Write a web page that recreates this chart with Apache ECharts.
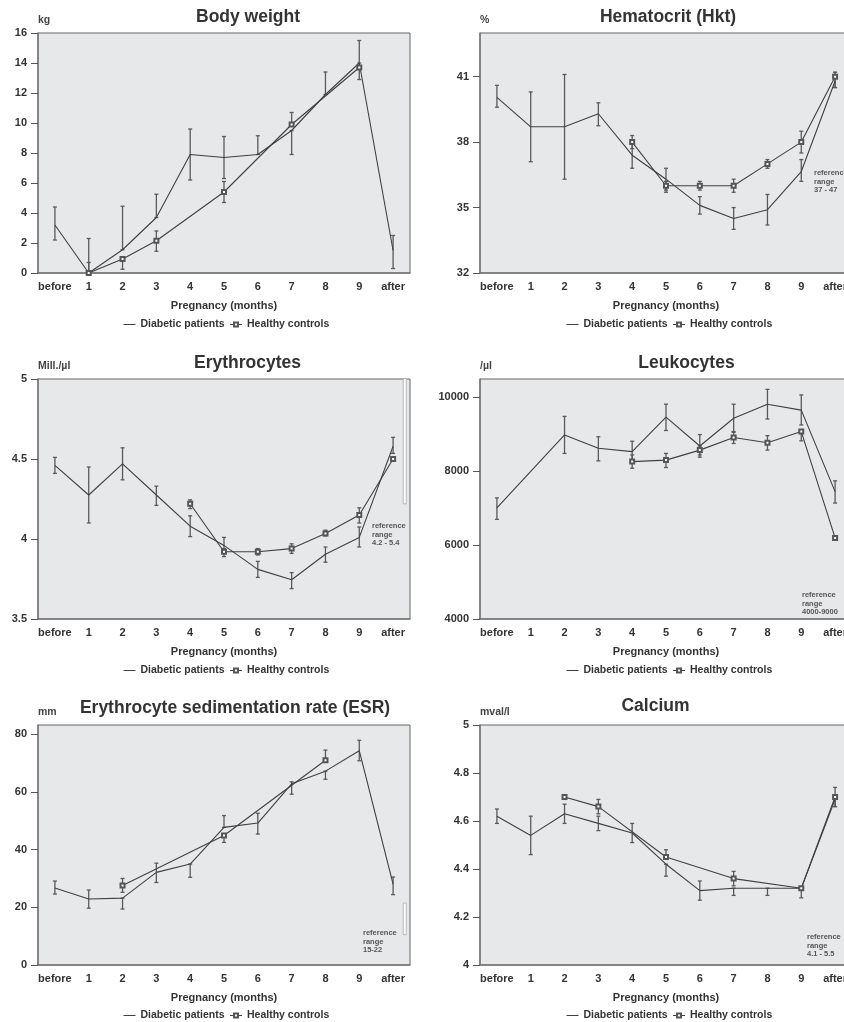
<!DOCTYPE html>
<html><head><meta charset="utf-8">
<script src="https://cdn.jsdelivr.net/npm/echarts@6/dist/echarts.min.js"></script>
<style>html,body{margin:0;padding:0;background:#fff}#c{width:844px;height:1022px}</style>
</head><body><div id="c"></div><script>
// ---------- categories ----------
const months = ['before','1','2','3','4','5','6','7','8','9','after'];
const seriesNames = ['Diabetic patients','Healthy controls'];

// ---------- Body weight (kg) ----------
const bwDiab   = [3.2, 0, 1.55, 3.7, 7.9, 7.7, 7.9, 9.5, 11.9, 14.0, 1.5];
const bwDiabLo = [2.2, 0, 1.55, 3.7, 6.2, 6.3, 7.9, 7.9, 11.9, 14.0, 0.3];
const bwDiabHi = [4.4, 2.3, 4.45, 5.25, 9.6, 9.1, 9.15, 9.5, 13.4, 15.5, 2.5];
const bwCtrl   = [null, 0, 0.93, 2.15, null, 5.4, null, 9.9, null, 13.7, null];
const bwCtrlLo = [null, 0, 0.25, 1.45, null, 4.7, null, 9.9, null, 12.9, null];
const bwCtrlHi = [null, 0.7, 0.93, 2.8, null, 6.1, null, 10.7, null, 13.7, null];
const bwTicks  = [0, 2, 4, 6, 8, 10, 12, 14, 16];

// ---------- Hematocrit (%) ----------
const hkDiab   = [40.05, 38.7, 38.7, 39.3, 37.4, 36.3, 35.1, 34.5, 34.9, 36.65, 40.8];
const hkDiabLo = [39.6, 37.1, 36.3, 38.75, 36.8, 35.8, 34.7, 34.0, 34.2, 36.2, 40.5];
const hkDiabHi = [40.6, 40.3, 41.1, 39.8, 38.0, 36.8, 35.5, 35.0, 35.6, 37.2, 41.2];
const hkCtrl   = [null, null, null, null, 38.0, 36.0, 36.0, 36.0, 37.0, 38.0, 41.0];
const hkCtrlLo = [null, null, null, null, 37.7, 35.7, 35.8, 35.7, 36.8, 37.5, 40.5];
const hkCtrlHi = [null, null, null, null, 38.3, 36.2, 36.2, 36.3, 37.2, 38.5, 41.2];
const hkTicks  = [32, 35, 38, 41];

// ---------- Erythrocytes (Mill./µl) ----------
const erDiab   = [4.46, 4.275, 4.47, 4.275, 4.08, 3.96, 3.81, 3.745, 3.905, 4.01, 4.58];
const erDiabLo = [4.41, 4.10, 4.37, 4.21, 4.015, 3.91, 3.76, 3.69, 3.855, 3.95, 4.535];
const erDiabHi = [4.51, 4.45, 4.57, 4.33, 4.145, 4.01, 3.86, 3.79, 3.95, 4.075, 4.635];
const erCtrl   = [null, null, null, null, 4.22, 3.92, 3.92, 3.94, 4.035, 4.15, 4.5];
const erCtrlLo = [null, null, null, null, 4.19, 3.89, 3.90, 3.91, 4.02, 4.10, 4.5];
const erCtrlHi = [null, null, null, null, 4.245, 3.94, 3.94, 3.97, 4.055, 4.195, 4.5];
const erTicks  = [3.5, 4, 4.5, 5];
const erRefRange = [4.22, 5.4];

// ---------- Leukocytes (/µl) ----------
const leDiab   = [7000, null, 8970, 8610, 8520, 9450, 8670, 9420, 9800, 9640, 7440];
const leDiabLo = [6690, null, 8470, 8270, 8240, 9090, 8370, 9040, 9400, 9240, 7130];
const leDiabHi = [7270, null, 9470, 8920, 8800, 9800, 8980, 9800, 10200, 10050, 7730];
const leCtrl   = [null, null, null, null, 8250, 8290, 8560, 8900, 8760, 9060, 6190];
const leCtrlLo = [null, null, null, null, 8070, 8090, 8430, 8740, 8560, 8810, 6130];
const leCtrlHi = [null, null, null, null, 8430, 8470, 8670, 9060, 8950, 9060, 6250];
const leTicks  = [4000, 6000, 8000, 10000];

// ---------- ESR (mm) ----------
const esDiab   = [26.7, 22.9, 23.2, 32.1, 35.0, 47.7, 49.2, 62.8, 67.2, 74.3, 28.0];
const esDiabLo = [24.6, 19.7, 19.4, 28.6, 30.4, 47.7, 45.4, 59.2, 64.4, 70.8, 24.4];
const esDiabHi = [29.1, 26.0, 23.2, 35.3, 35.0, 51.8, 52.6, 63.5, 67.2, 77.9, 30.5];
const esCtrl   = [null, null, 27.6, null, null, 44.9, null, null, 71.0, null, null];
const esCtrlLo = [null, null, 25.2, null, null, 42.5, null, null, 71.0, null, null];
const esCtrlHi = [null, null, 30.0, null, null, 44.9, null, null, 74.5, null, null];
const esTicks  = [0, 20, 40, 60, 80];
const esRefRange = [10.5, 21.5];

// ---------- Calcium (mval/l) ----------
const caDiab   = [4.62, 4.54, 4.63, 4.59, 4.55, 4.42, 4.31, 4.32, 4.32, 4.32, 4.69];
const caDiabLo = [4.59, 4.46, 4.59, 4.56, 4.51, 4.37, 4.27, 4.29, 4.29, 4.28, 4.66];
const caDiabHi = [4.65, 4.62, 4.67, 4.62, 4.59, 4.42, 4.35, 4.32, 4.32, 4.32, 4.69];
const caCtrl   = [null, null, 4.70, 4.66, null, 4.45, null, 4.36, null, 4.32, 4.70];
const caCtrlLo = [null, null, 4.69, 4.63, null, 4.45, null, 4.33, null, 4.32, 4.66];
const caCtrlHi = [null, null, 4.71, 4.69, null, 4.48, null, 4.39, null, 4.32, 4.74];
const caTicks  = [4, 4.2, 4.4, 4.6, 4.8, 5];

// ---------- panels ----------
const panels = [
  {title:'Body weight', unit:'kg', d:bwDiab, dLo:bwDiabLo, dHi:bwDiabHi, c:bwCtrl, cLo:bwCtrlLo, cHi:bwCtrlHi, ticks:bwTicks, min:0, max:16,
   tx:248, ty:17, ref:null},
  {title:'Hematocrit (Hkt)', unit:'%', d:hkDiab, dLo:hkDiabLo, dHi:hkDiabHi, c:hkCtrl, cLo:hkCtrlLo, cHi:hkCtrlHi, ticks:hkTicks, min:32, max:43,
   tx:668, ty:17, ref:'reference\nrange\n37 - 47', rx:814, ry:169},
  {title:'Erythrocytes', unit:'Mill./µl', d:erDiab, dLo:erDiabLo, dHi:erDiabHi, c:erCtrl, cLo:erCtrlLo, cHi:erCtrlHi, ticks:erTicks, min:3.5, max:5,
   tx:247.5, ty:363, ref:'reference\nrange\n4.2 - 5.4', rx:372, ry:522, bar:erRefRange},
  {title:'Leukocytes', unit:'/µl', d:leDiab, dLo:leDiabLo, dHi:leDiabHi, c:leCtrl, cLo:leCtrlLo, cHi:leCtrlHi, ticks:leTicks, min:4000, max:10480,
   tx:686.5, ty:363, ref:'reference\nrange\n4000-9000', rx:802, ry:591},
  {title:'Erythrocyte sedimentation rate (ESR)', unit:'mm', d:esDiab, dLo:esDiabLo, dHi:esDiabHi, c:esCtrl, cLo:esCtrlLo, cHi:esCtrlHi, ticks:esTicks, min:0, max:83.2,
   tx:235, ty:708, ref:'reference\nrange\n15-22', rx:363, ry:929, bar:esRefRange},
  {title:'Calcium', unit:'mval/l', d:caDiab, dLo:caDiabLo, dHi:caDiabHi, c:caCtrl, cLo:caCtrlLo, cHi:caCtrlHi, ticks:caTicks, min:4, max:5,
   tx:655.5, ty:706, ref:'reference\nrange\n4.1 - 5.5', rx:807, ry:933}
];

const gridLefts = [38, 480];
const gridTops = [33, 379, 725];
const legendLefts = [118, 561];
const legendTops = [314, 660, 1005];
const TXT = '#333';
const FONT = 'Liberation Sans, Arial, sans-serif';

function errItem(params, api) {
  const x = api.value(0), lo = api.value(1), hi = api.value(2);
  const p1 = api.coord([x, lo]), p2 = api.coord([x, hi]);
  const c = 2, st = {stroke:'#5a5a5a', lineWidth:1.3};
  return {type:'group', children:[
    {type:'line', shape:{x1:p1[0], y1:p1[1], x2:p2[0], y2:p2[1]}, style:st},
    {type:'line', shape:{x1:p1[0]-c, y1:p1[1], x2:p1[0]+c, y2:p1[1]}, style:st},
    {type:'line', shape:{x1:p2[0]-c, y1:p2[1], x2:p2[0]+c, y2:p2[1]}, style:st}
  ]};
}
function refBarItem(params, api) {
  const x = api.value(0), lo = api.value(1), hi = api.value(2);
  const pLo = api.coord([x, lo]), pHi = api.coord([x, hi]);
  const band = api.size([1, 0])[0];
  const x0 = pLo[0] + band * 0.3;
  return {type:'rect', shape:{x:x0, y:pHi[1], width:3, height:pLo[1]-pHi[1]},
    style:{fill:'#ffffff', stroke:'#aaa', lineWidth:0.8}};
}
function errData(lo, hi) {
  const out = [];
  lo.forEach((v, i) => { if (v != null && hi[i] != null) out.push([i, v, hi[i]]); });
  return out;
}

const grid = [], xAxis = [], yAxis = [], series = [], legend = [], graphic = [];
panels.forEach((p, i) => {
  const col = i % 2, row = Math.floor(i / 2);
  grid.push({left:gridLefts[col], top:gridTops[row], width:372, height:240, outerBoundsMode:'none', containLabel:false,
    show:true, backgroundColor:'#e7e8ea', borderColor:'#666', borderWidth:1});
  xAxis.push({type:'category', gridIndex:i, data:months, boundaryGap:true,
    axisLine:{lineStyle:{color:'#777', width:1.5}},
    axisTick:{alignWithLabel:true, length:5, lineStyle:{color:'#555'}},
    axisLabel:{color:TXT, fontWeight:'bold', fontSize:11, fontFamily:FONT, margin:8, interval:0},
    name:'Pregnancy (months)', nameLocation:'middle', nameGap:27,
    nameTextStyle:{color:TXT, fontWeight:'bold', fontSize:11, fontFamily:FONT},
    splitLine:{show:false}});
  yAxis.push({type:'value', gridIndex:i, min:p.min, max:p.max,
    axisLine:{show:true, lineStyle:{color:'#777', width:1.5}},
    axisTick:{show:true, length:7, lineStyle:{color:'#555'}, customValues:p.ticks},
    axisLabel:{color:TXT, fontWeight:'bold', fontSize:11, fontFamily:FONT, margin:11, customValues:p.ticks,
      formatter:(v) => String(v)},
    splitLine:{show:false}});
  if (p.bar) {
    series.push({type:'custom', xAxisIndex:i, yAxisIndex:i, renderItem:refBarItem, clip:true,
      data:[[months.length - 1, p.bar[0], p.bar[1]]], encode:{x:0, y:[1,2]}, silent:true, z:1});
  }
  series.push({type:'custom', xAxisIndex:i, yAxisIndex:i, renderItem:errItem, clip:true,
    data:errData(p.dLo, p.dHi), encode:{x:0, y:[1,2]}, silent:true, z:2});
  series.push({type:'custom', xAxisIndex:i, yAxisIndex:i, renderItem:errItem, clip:true,
    data:errData(p.cLo, p.cHi), encode:{x:0, y:[1,2]}, silent:true, z:2});
  series.push({type:'line', name:seriesNames[0], xAxisIndex:i, yAxisIndex:i, data:p.d,
    connectNulls:true, symbol:'none', lineStyle:{color:'#404040', width:1.1}, itemStyle:{color:'#404040'}, z:3});
  series.push({type:'line', name:seriesNames[1], xAxisIndex:i, yAxisIndex:i, data:p.c,
    connectNulls:true, symbol:'emptyRect', symbolSize:4, lineStyle:{color:'#404040', width:1.1},
    itemStyle:{color:'#555', borderColor:'#555', borderWidth:0.9}, z:4});
  legend.push({left:legendLefts[col], top:legendTops[row], selectedMode:false,
    data:[{name:seriesNames[0], itemStyle:{opacity:0}, lineStyle:{width:1}}, {name:seriesNames[1], lineStyle:{width:1}}],
    itemWidth:12, itemHeight:5, itemGap:5,
    textStyle:{color:TXT, fontWeight:'bold', fontSize:10.5, fontFamily:FONT}});
  graphic.push({type:'text', x:p.tx, y:p.ty, silent:true,
    style:{text:p.title, fill:TXT, font:'bold 17.5px ' + FONT, textAlign:'center', textVerticalAlign:'middle'}});
  graphic.push({type:'text', x:gridLefts[col], y:gridTops[row] - 13, silent:true,
    style:{text:p.unit, fill:'#444', font:'bold 10.5px ' + FONT, textAlign:'left', textVerticalAlign:'middle'}});
  if (p.ref) {
    graphic.push({type:'text', x:p.rx, y:p.ry, silent:true,
      style:{text:p.ref, fill:'#555', font:'bold 7.5px ' + FONT, lineHeight:8.5, textAlign:'left', textVerticalAlign:'top'}});
  }
});

const chart = echarts.init(document.getElementById('c'), null, {renderer:'canvas'});
chart.setOption({animation:false, backgroundColor:'#fff', grid, xAxis, yAxis, series, legend, graphic});
</script></body></html>
